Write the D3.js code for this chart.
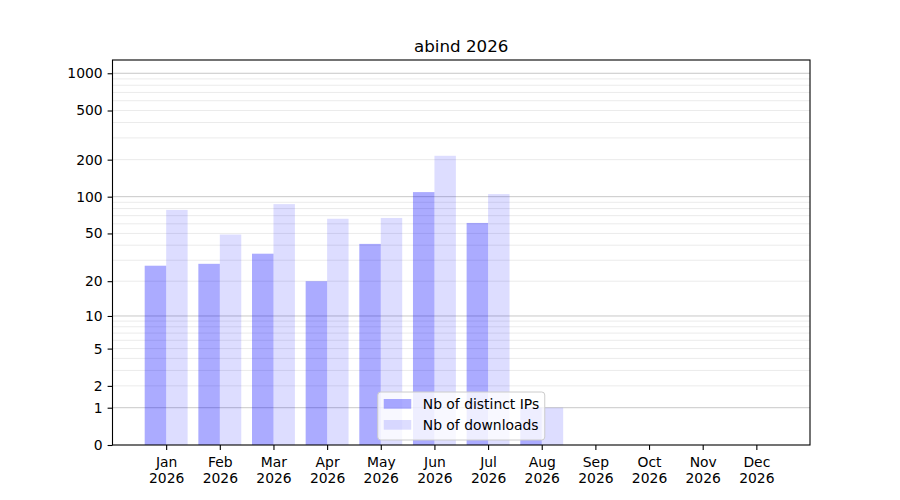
<!DOCTYPE html>
<html>
<head>
<meta charset="utf-8">
<script src="https://cdn.jsdelivr.net/npm/d3@7"></script>
<style>
  body { margin: 0; background: #fff; }
  text { font-family: "DejaVu Sans", sans-serif; fill: #000; }
</style>
</head>
<body>
<div id="chart"></div>
<script>
'use strict';

var title = "abind 2026";
var months = ["Jan", "Feb", "Mar", "Apr", "May", "Jun", "Jul", "Aug", "Sep", "Oct", "Nov", "Dec"];
var yearLabel = "2026";
var distinctIPs = [27, 28, 34, 20, 41, 109, 61, 1, 0, 0, 0, 0];
var downloads = [78, 49, 87, 66, 67, 215, 105, 1, 0, 0, 0, 0];
var yTickValues = [0, 1, 2, 5, 10, 20, 50, 100, 200, 500, 1000];
var yMajorGrid = [1, 10, 100, 1000];
var seriesNames = ["Nb of distinct IPs", "Nb of downloads"];

var svgw = 900, svgh = 500;
var margin = {top: 60, right: 90, bottom: 55, left: 112.5};

var svg = d3.select("#chart").append("svg")
    .attr("width", svgw)
    .attr("height", svgh);

var x = d3.scaleLinear()
    .domain([-1, 12])
    .range([margin.left, svgw - margin.right]);

// log(1+v) style axis, like the reference
var y = d3.scaleSymlog()
    .constant(1)
    .domain([0, 1280])
    .range([svgh - margin.bottom, margin.top]);

// minor grid: 2..9 of each decade
var minor = [];
[1, 10, 100].forEach(function(d){
    for (var k = 2; k <= 9; k++) minor.push(k * d);
});

var grid = svg.append("g").attr("class", "grid");
grid.selectAll("line.minor")
    .data(minor)
    .enter().append("line")
    .attr("class", "minor")
    .attr("x1", x.range()[0]).attr("x2", x.range()[1])
    .attr("y1", function(d){ return y(d); })
    .attr("y2", function(d){ return y(d); })
    .attr("stroke", "#ebebeb")
    .attr("stroke-width", 1);
grid.selectAll("line.major")
    .data(yMajorGrid)
    .enter().append("line")
    .attr("class", "major")
    .attr("x1", x.range()[0]).attr("x2", x.range()[1])
    .attr("y1", function(d){ return y(d); })
    .attr("y2", function(d){ return y(d); })
    .attr("stroke", "#c8c8c8")
    .attr("stroke-width", 1);

var barw = 0.4;
var colors = [{fill: "#0000ff", op: 0.33}, {fill: "#0000ff", op: 0.135}];

[distinctIPs, downloads].forEach(function(values, s){
    svg.append("g")
        .attr("class", "series" + s)
        .selectAll("rect")
        .data(values)
        .enter().append("rect")
        .attr("x", function(d, i){ return x(s === 0 ? i - barw : i); })
        .attr("width", x(barw) - x(0))
        .attr("y", function(d){ return y(d); })
        .attr("height", function(d){ return y(0) - y(d); })
        .attr("fill", colors[s].fill)
        .attr("fill-opacity", colors[s].op);
});

// axes
var yAxis = svg.append("g")
    .attr("transform", "translate(" + margin.left + ",0)")
    .call(d3.axisLeft(y).tickValues(yTickValues).tickFormat(d3.format("d"))
        .tickSize(4.9).tickPadding(4.9));

var xAxis = svg.append("g")
    .attr("transform", "translate(0," + (svgh - margin.bottom) + ")")
    .call(d3.axisBottom(x).tickValues(d3.range(12)).tickFormat("")
        .tickSize(4.9));

[yAxis, xAxis].forEach(function(a){
    a.select(".domain").remove();
    a.selectAll(".tick line").attr("stroke", "#000").attr("stroke-width", 1.1);
    a.selectAll("text").style("font-size", "13.9px").attr("fill", "#000");
});

xAxis.selectAll(".tick").each(function(d){
    var t = d3.select(this).append("text")
        .attr("text-anchor", "middle")
        .style("font-size", "13.9px");
    t.append("tspan").attr("x", 0).attr("y", 22).text(months[d]);
    t.append("tspan").attr("x", 0).attr("y", 37.5).text(yearLabel);
});

// frame
svg.append("rect")
    .attr("x", x.range()[0])
    .attr("y", margin.top)
    .attr("width", x.range()[1] - x.range()[0])
    .attr("height", y(0) - margin.top)
    .attr("fill", "none")
    .attr("stroke", "#000")
    .attr("stroke-width", 1.1);

svg.append("text")
    .attr("x", (x.range()[0] + x.range()[1]) / 2)
    .attr("y", 52)
    .attr("text-anchor", "middle")
    .style("font-size", "16.7px")
    .text(title);

// legend, lower centre
var lw = 167, lh = 48;
var lx = (x.range()[0] + x.range()[1]) / 2 - lw / 2;
var ly = y(0) - 5 - lh;
var legend = svg.append("g").attr("transform", "translate(" + lx + "," + ly + ")");
legend.append("rect")
    .attr("width", lw).attr("height", lh)
    .attr("rx", 3).attr("ry", 3)
    .attr("fill", "#fff").attr("fill-opacity", 0.8)
    .attr("stroke", "#cccccc").attr("stroke-width", 1);
seriesNames.forEach(function(name, s){
    var cy = 12 + s * 21;
    legend.append("rect")
        .attr("x", 6).attr("y", cy - 5)
        .attr("width", 27.5).attr("height", 9.7)
        .attr("fill", colors[s].fill)
        .attr("fill-opacity", colors[s].op);
    legend.append("text")
        .attr("x", 45).attr("y", cy + 5)
        .style("font-size", "13.9px")
        .text(name);
});
</script>
</body>
</html>
